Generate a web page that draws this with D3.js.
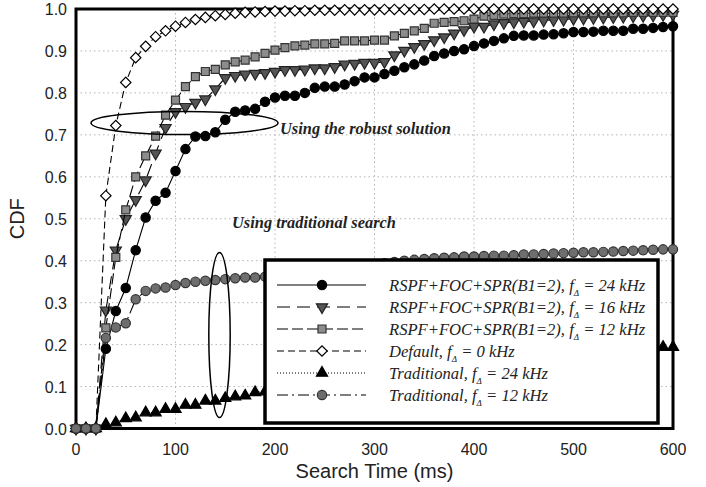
<!DOCTYPE html>
<html>
<head>
<meta charset="utf-8">
<script src="https://cdn.jsdelivr.net/npm/d3@7"></script>
<style>
  body { margin: 0; background: white; }
</style>
</head>
<body>
<div id="cdf-chart"></div>
<script>

let chart_width = 706;
let chart_height = 487;

// search time in ms
const times = [0, 10, 20, 30, 40, 50, 60, 70, 80, 90,
    100, 110, 120, 130, 140, 150, 160, 170, 180, 190,
    200, 210, 220, 230, 240, 250, 260, 270, 280, 290,
    300, 310, 320, 330, 340, 350, 360, 370, 380, 390,
    400, 410, 420, 430, 440, 450, 460, 470, 480, 490,
    500, 510, 520, 530, 540, 550, 560, 570, 580, 590, 600];

const rspf24 = [0, 0, 0, 0.19, 0.28, 0.335, 0.425, 0.503, 0.543, 0.562,
    0.614, 0.666, 0.696, 0.697, 0.706, 0.736, 0.755, 0.758, 0.762, 0.779,
    0.789, 0.793, 0.793, 0.800, 0.812, 0.815, 0.815, 0.820, 0.828, 0.837,
    0.837, 0.845, 0.853, 0.861, 0.868, 0.877, 0.888, 0.894, 0.900, 0.904,
    0.912, 0.918, 0.924, 0.930, 0.936, 0.937, 0.937, 0.939, 0.940, 0.942,
    0.945, 0.945, 0.946, 0.948, 0.948, 0.948, 0.953, 0.953, 0.955, 0.957, 0.959];

const rspf16 = [0, 0, 0, 0.282, 0.425, 0.500, 0.545, 0.592, 0.656, 0.717,
    0.755, 0.767, 0.777, 0.785, 0.809, 0.836, 0.841, 0.844, 0.846, 0.848,
    0.851, 0.855, 0.855, 0.856, 0.859, 0.859, 0.862, 0.868, 0.870, 0.872,
    0.872, 0.874, 0.890, 0.901, 0.910, 0.917, 0.926, 0.933, 0.942, 0.950,
    0.958, 0.958, 0.964, 0.967, 0.969, 0.970, 0.971, 0.973, 0.974, 0.975,
    0.977, 0.978, 0.979, 0.980, 0.981, 0.982, 0.983, 0.984, 0.985, 0.986, 0.987];

const rspf12 = [0, 0, 0, 0.240, 0.408, 0.521, 0.600, 0.650, 0.697, 0.747,
    0.783, 0.815, 0.839, 0.851, 0.856, 0.867, 0.874, 0.878, 0.886, 0.894,
    0.902, 0.908, 0.912, 0.914, 0.917, 0.917, 0.918, 0.924, 0.924, 0.924,
    0.926, 0.926, 0.936, 0.942, 0.948, 0.954, 0.966, 0.968, 0.970, 0.972,
    0.976, 0.983, 0.985, 0.988, 0.989, 0.989, 0.990, 0.990, 0.990, 0.990,
    0.991, 0.991, 0.991, 0.991, 0.991, 0.991, 0.992, 0.992, 0.992, 0.992, 0.992];

const defaultZero = [0, 0, 0, 0.555, 0.722, 0.825, 0.884, 0.911, 0.934, 0.948,
    0.959, 0.968, 0.975, 0.980, 0.984, 0.987, 0.990, 0.992, 0.993, 0.994,
    0.995, 0.995, 0.996, 0.996, 0.997, 0.997, 0.997, 0.998, 0.998, 0.998,
    0.998, 0.999, 0.999, 0.999, 0.999, 0.999, 1, 1, 1, 1,
    1, 1, 1, 1, 1, 1, 1, 1, 1, 1,
    1, 1, 1, 1, 1, 1, 1, 1, 1, 1, 1];

const trad24 = [0, 0, 0, 0.010, 0.014, 0.024, 0.026, 0.038, 0.038, 0.046,
    0.046, 0.056, 0.056, 0.066, 0.066, 0.072, 0.076, 0.078, 0.086, 0.088,
    0.090, 0.096, 0.098, 0.100, 0.106, 0.108, 0.110, 0.116, 0.118, 0.122,
    0.124, 0.128, 0.130, 0.136, 0.136, 0.140, 0.144, 0.146, 0.148, 0.150,
    0.154, 0.156, 0.158, 0.162, 0.164, 0.166, 0.170, 0.170, 0.172, 0.176,
    0.176, 0.178, 0.182, 0.182, 0.184, 0.188, 0.188, 0.190, 0.192, 0.194, 0.194];

const trad12 = [0, 0, 0, 0.216, 0.241, 0.251, 0.308, 0.328, 0.334, 0.336,
    0.342, 0.347, 0.350, 0.352, 0.354, 0.356, 0.358, 0.360, 0.360, 0.362,
    0.364, 0.366, 0.370, 0.372, 0.375, 0.378, 0.381, 0.384, 0.386, 0.389,
    0.392, 0.394, 0.397, 0.400, 0.402, 0.404, 0.406, 0.407, 0.408, 0.410,
    0.410, 0.411, 0.412, 0.412, 0.413, 0.415, 0.415, 0.416, 0.417, 0.418,
    0.419, 0.420, 0.420, 0.421, 0.422, 0.423, 0.424, 0.425, 0.426, 0.427, 0.427];

const xTicks = [0, 100, 200, 300, 400, 500, 600];
const yTicks = [0, 0.1, 0.2, 0.3, 0.4, 0.5, 0.6, 0.7, 0.8, 0.9, 1.0];

const legendLabels = [
    ["RSPF+FOC+SPR(B1=2), f", "Δ", " = 24 kHz"],
    ["RSPF+FOC+SPR(B1=2), f", "Δ", " = 16 kHz"],
    ["RSPF+FOC+SPR(B1=2), f", "Δ", " = 12 kHz"],
    ["Default, f", "Δ", " = 0 kHz"],
    ["Traditional, f", "Δ", " = 24 kHz"],
    ["Traditional, f", "Δ", " = 12 kHz"]
];

// one style per series: marker, fill, stroke, dash
const series = [
    { values: rspf24, marker: "circle", fill: "#000", stroke: "#000", dash: null },
    { values: rspf16, marker: "triangleDown", fill: "#555", stroke: "#222", dash: "13,7" },
    { values: rspf12, marker: "square", fill: "#8c8c8c", stroke: "#333", dash: "11,4" },
    { values: defaultZero, marker: "diamond", fill: "#fff", stroke: "#000", dash: "7,4" },
    { values: trad24, marker: "triangleUp", fill: "#000", stroke: "#000", dash: "1,2" },
    { values: trad12, marker: "circle", fill: "#6e6e6e", stroke: "#333", dash: "11,4,2,4" }
];

let margin = { left: 76, right: 33, top: 9, bottom: 58.5 };

let svg = d3.select("#cdf-chart")
    .append("svg")
    .attr("width", chart_width)
    .attr("height", chart_height);

let scaleX = d3.scaleLinear()
    .domain([0, 600])
    .range([margin.left, chart_width - margin.right]);

let scaleY = d3.scaleLinear()
    .domain([0, 1])
    .range([chart_height - margin.bottom, margin.top]);

// dotted grid
svg.append("g")
    .selectAll("line.vgrid")
    .data(xTicks.slice(1, -1))
    .join("line")
    .attr("x1", d => scaleX(d))
    .attr("x2", d => scaleX(d))
    .attr("y1", scaleY(0))
    .attr("y2", scaleY(1))
    .attr("stroke", "#b5b5b5")
    .attr("stroke-dasharray", "1.5,3");

svg.append("g")
    .selectAll("line.hgrid")
    .data(yTicks.slice(1, -1))
    .join("line")
    .attr("x1", scaleX(0))
    .attr("x2", scaleX(600))
    .attr("y1", d => scaleY(d))
    .attr("y2", d => scaleY(d))
    .attr("stroke", "#b5b5b5")
    .attr("stroke-dasharray", "1.5,3");

// frame
svg.append("rect")
    .attr("x", scaleX(0))
    .attr("y", scaleY(1))
    .attr("width", scaleX(600) - scaleX(0))
    .attr("height", scaleY(0) - scaleY(1))
    .attr("fill", "none")
    .attr("stroke", "black")
    .attr("stroke-width", 3);

// tick labels
svg.append("g")
    .selectAll("text")
    .data(xTicks)
    .join("text")
    .attr("x", d => scaleX(d))
    .attr("y", scaleY(0) + 26)
    .attr("text-anchor", "middle")
    .attr("font-family", "Liberation Sans, Arial, sans-serif")
    .attr("font-size", 16)
    .attr("fill", "#222")
    .text(d => d);

svg.append("g")
    .selectAll("text")
    .data(yTicks)
    .join("text")
    .attr("x", scaleX(0) - 9)
    .attr("y", d => scaleY(d) + 6)
    .attr("text-anchor", "end")
    .attr("font-family", "Liberation Sans, Arial, sans-serif")
    .attr("font-size", 16)
    .attr("fill", "#222")
    .text(d => d.toFixed(1));

svg.append("text")
    .attr("x", (scaleX(0) + scaleX(600)) / 2)
    .attr("y", 478)
    .attr("text-anchor", "middle")
    .attr("font-family", "Liberation Sans, Arial, sans-serif")
    .attr("font-size", 20)
    .attr("fill", "#222")
    .text("Search Time (ms)");

svg.append("text")
    .attr("transform", "translate(24," + scaleY(0.5) + ") rotate(-90)")
    .attr("text-anchor", "middle")
    .attr("font-family", "Liberation Sans, Arial, sans-serif")
    .attr("font-size", 20)
    .attr("fill", "#222")
    .text("CDF");

const markerPath = function(type) {
    if (type === "circle") return d3.symbol(d3.symbolCircle, 68)();
    if (type === "square") return d3.symbol(d3.symbolSquare, 64)();
    if (type === "diamond") return d3.symbol(d3.symbolSquare, 54)();
    return d3.symbol(d3.symbolTriangle, 54)();
}

const markerRotation = function(type) {
    if (type === "diamond") return 45;
    if (type === "triangleDown") return 180;
    return 0;
}

let line = d3.line()
    .x((d, i) => scaleX(times[i]))
    .y(d => scaleY(d));

let seriesGroups = svg.append("g")
    .selectAll("g.series")
    .data(series)
    .join("g")
    .attr("class", "series");

seriesGroups.append("path")
    .attr("d", d => line(d.values))
    .attr("fill", "none")
    .attr("stroke", "black")
    .attr("stroke-width", 1.1)
    .attr("stroke-dasharray", d => d.dash);

seriesGroups.each(function(s) {
    d3.select(this)
        .selectAll("path.marker")
        .data(s.values)
        .join("path")
        .attr("class", "marker")
        .attr("d", markerPath(s.marker))
        .attr("transform", (d, i) => "translate(" + scaleX(times[i]) + "," + scaleY(d) + ") rotate(" + markerRotation(s.marker) + ")")
        .attr("fill", s.fill)
        .attr("stroke", s.stroke)
        .attr("stroke-width", 1.2);
});

// annotations
svg.append("ellipse")
    .attr("cx", 184.5)
    .attr("cy", 123)
    .attr("rx", 93.5)
    .attr("ry", 11.5)
    .attr("fill", "none")
    .attr("stroke", "black")
    .attr("stroke-width", 1.5);

svg.append("ellipse")
    .attr("cx", 219.5)
    .attr("cy", 335)
    .attr("rx", 10.7)
    .attr("ry", 82.5)
    .attr("fill", "none")
    .attr("stroke", "black")
    .attr("stroke-width", 1.5);

svg.append("text")
    .attr("x", 280)
    .attr("y", 134)
    .attr("font-family", "Liberation Serif, Times New Roman, serif")
    .attr("font-style", "italic")
    .attr("font-weight", "bold")
    .attr("font-size", 16.4)
    .attr("fill", "#222")
    .text("Using the robust solution");

svg.append("text")
    .attr("x", 232)
    .attr("y", 228)
    .attr("font-family", "Liberation Serif, Times New Roman, serif")
    .attr("font-style", "italic")
    .attr("font-weight", "bold")
    .attr("font-size", 16.4)
    .attr("fill", "#222")
    .text("Using traditional search");

// legend
let legend = svg.append("g");

legend.append("rect")
    .attr("x", 265)
    .attr("y", 260)
    .attr("width", 393)
    .attr("height", 163)
    .attr("fill", "white")
    .attr("stroke", "black")
    .attr("stroke-width", 3.5);

let legendRows = legend.selectAll("g.row")
    .data(series)
    .join("g")
    .attr("class", "row")
    .attr("transform", (d, i) => "translate(0," + (285 + i * 22) + ")");

legendRows.append("line")
    .attr("x1", 277)
    .attr("x2", 366)
    .attr("stroke", "black")
    .attr("stroke-width", 1.1)
    .attr("stroke-dasharray", d => d.dash);

legendRows.append("path")
    .attr("d", d => markerPath(d.marker))
    .attr("transform", d => "translate(322,0) rotate(" + markerRotation(d.marker) + ")")
    .attr("fill", d => d.fill)
    .attr("stroke", d => d.stroke)
    .attr("stroke-width", 1.2);

let legendText = legendRows.append("text")
    .attr("x", 389)
    .attr("y", 6)
    .attr("font-family", "Liberation Serif, Times New Roman, serif")
    .attr("font-style", "italic")
    .attr("font-size", 16.6)
    .attr("fill", "#222");

legendText.append("tspan").text((d, i) => legendLabels[i][0]);
legendText.append("tspan")
    .attr("dy", 5)
    .attr("font-size", 9)
    .text((d, i) => legendLabels[i][1]);
legendText.append("tspan")
    .attr("dy", -5)
    .text((d, i) => legendLabels[i][2]);

</script>
</body>
</html>
